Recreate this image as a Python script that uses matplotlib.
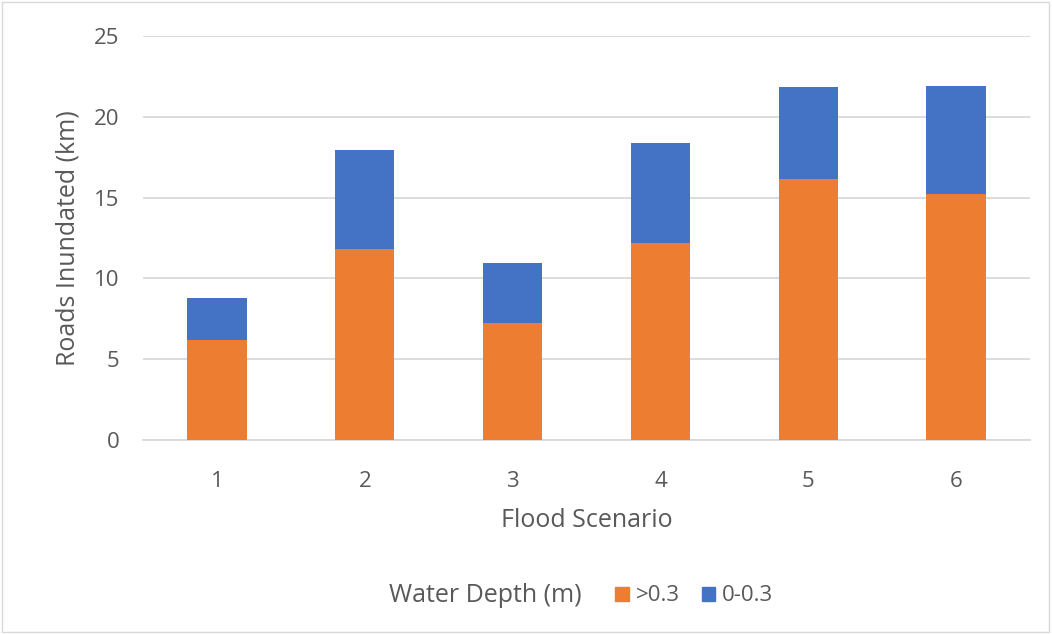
import numpy as np
import matplotlib.pyplot as plt
from matplotlib.patches import Patch, Rectangle

plt.rcParams['font.family'] = ['Open Sans', 'DejaVu Sans']

scenarios = ['1', '2', '3', '4', '5', '6']
deep = [6.17, 11.82, 7.22, 12.17, 16.17, 15.2]      # >0.3 m
shallow = [2.60, 6.13, 3.76, 6.19, 5.66, 6.70]      # 0-0.3 m

orange = '#ED7D31'
blue = '#4472C4'
txt = '#595959'

fig = plt.figure(figsize=(10.52, 6.34), dpi=100)
ax = fig.add_axes([0.136, 0.306, 0.843, 0.637])

x = np.arange(len(scenarios))
ax.bar(x, deep, width=0.4, color=orange, zorder=3)
ax.bar(x, shallow, width=0.4, bottom=deep, color=blue, zorder=3)

ax.set_xlim(-0.5, len(scenarios) - 0.5)
ax.set_ylim(0, 25)
ax.set_yticks(np.arange(0, 26, 5))
ax.set_xticks(x)
ax.set_xticklabels(scenarios)
ax.grid(axis='y', color='#D9D9D9', linewidth=1.3, zorder=0)
for s in ['top', 'right', 'left']:
    ax.spines[s].set_visible(False)
ax.spines['bottom'].set_color('#D9D9D9')
ax.spines['bottom'].set_linewidth(1.3)
ax.tick_params(axis='both', length=0, labelsize=16, colors=txt)
ax.tick_params(axis='y', pad=17)
ax.tick_params(axis='x', pad=22)

ax.set_xlabel('Flood Scenario', fontsize=18, color=txt, labelpad=12)
ax.set_ylabel('Roads Inundated (km)', fontsize=18, color=txt, labelpad=10)

fig.text(0.553, 0.06, 'Water Depth (m)', fontsize=18, color=txt, ha='right', va='center')
handles = [Patch(color=orange, label='>0.3'), Patch(color=blue, label='0-0.3')]
fig.legend(handles=handles, loc='center left', bbox_to_anchor=(0.585, 0.06), ncol=2,
           frameon=False, fontsize=16, labelcolor=txt, handlelength=0.6, handleheight=0.6,
           handletextpad=0.3, columnspacing=1.0, borderpad=0, borderaxespad=0)

fig.patches.append(Rectangle((0.002, 0.003), 0.995, 0.994, transform=fig.transFigure,
                             fill=False, edgecolor='#D9D9D9', linewidth=1))

fig.savefig('out.png', dpi=100)
